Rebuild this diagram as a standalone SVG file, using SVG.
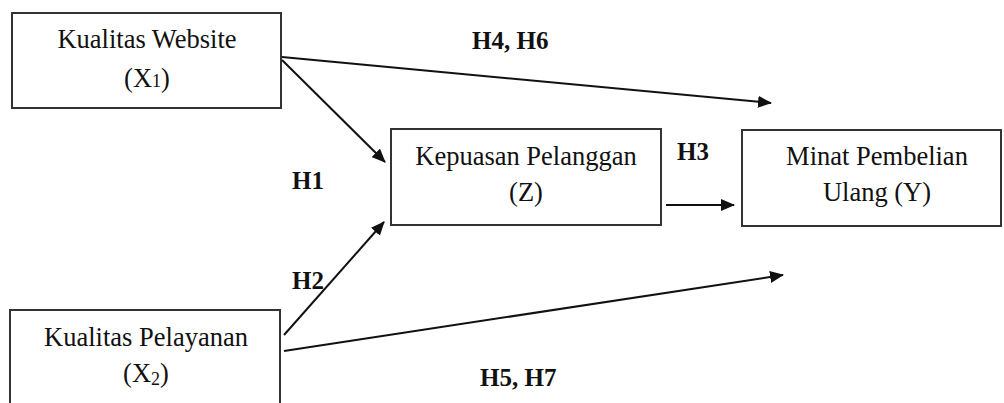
<svg xmlns="http://www.w3.org/2000/svg" width="1004" height="403" viewBox="0 0 1004 403">
<style>
.box{fill:#fff;stroke:#333;stroke-width:2}
.t{font-family:"Liberation Serif","Times New Roman",serif;font-size:26.5px;fill:#111;text-anchor:middle}
.h{font-family:"Liberation Serif","Times New Roman",serif;font-size:25px;font-weight:bold;fill:#111}
.c{stroke:#111;stroke-width:2;fill:none;marker-end:url(#ah)}
</style>
<defs>
<marker id="ah" markerWidth="14" markerHeight="12" refX="13" refY="6" orient="auto" markerUnits="userSpaceOnUse">
<path d="M0,0 L14,6 L0,12 Z" fill="#111"/>
</marker>
</defs>
<rect width="1004" height="403" fill="#fff"/>
<g id="connectors">
<line class="c" x1="282" y1="57" x2="771" y2="103"/>
<line class="c" x1="282" y1="60" x2="385" y2="162"/>
<line class="c" x1="284" y1="335" x2="384" y2="222"/>
<line class="c" x1="284" y1="351" x2="783" y2="275"/>
<line class="c" x1="666" y1="205" x2="734" y2="205"/>
</g>
<g id="x1">
<rect class="box" x="12" y="13" width="269" height="95"/>
<text class="t" x="147" y="48">Kualitas Website</text>
<text class="t" x="147" y="87">(X<tspan font-size="18">1</tspan>)</text>
</g>
<g id="x2">
<rect class="box" x="10" y="310" width="270" height="110"/>
<text class="t" x="146" y="346">Kualitas Pelayanan</text>
<text class="t" x="146" y="382">(X<tspan font-size="18" dy="3">2</tspan><tspan dy="-3">)</tspan></text>
</g>
<g id="z">
<rect class="box" x="391" y="129" width="270" height="96"/>
<text class="t" x="526" y="165">Kepuasan Pelanggan</text>
<text class="t" x="526" y="201">(Z)</text>
</g>
<g id="y">
<rect class="box" x="742" y="130" width="259" height="96"/>
<text class="t" x="877" y="165">Minat Pembelian</text>
<text class="t" x="877" y="201">Ulang (Y)</text>
</g>
<g id="labels">
<text class="h" x="472" y="49">H4, H6</text>
<text class="h" x="292" y="189">H1</text>
<text class="h" x="292" y="289">H2</text>
<text class="h" x="677" y="160">H3</text>
<text class="h" x="480" y="386">H5, H7</text>
</g>
</svg>
